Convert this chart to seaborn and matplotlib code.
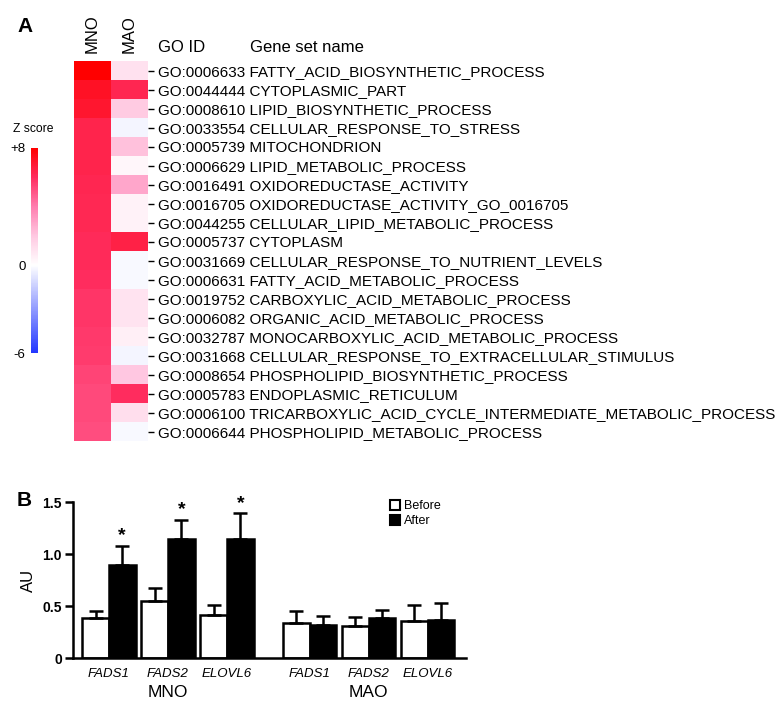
import numpy as np
import pandas as pd
import matplotlib
matplotlib.use("Agg")
import matplotlib.pyplot as plt
import seaborn as sns
from matplotlib.colors import LinearSegmentedColormap
from matplotlib.patches import Patch
from matplotlib import transforms

# ---------------- data ----------------
go_ids = ["GO:0006633", "GO:0044444", "GO:0008610", "GO:0033554", "GO:0005739",
          "GO:0006629", "GO:0016491", "GO:0016705", "GO:0044255", "GO:0005737",
          "GO:0031669", "GO:0006631", "GO:0019752", "GO:0006082", "GO:0032787",
          "GO:0031668", "GO:0008654", "GO:0005783", "GO:0006100", "GO:0006644"]
gene_set_names = ["FATTY_ACID_BIOSYNTHETIC_PROCESS", "CYTOPLASMIC_PART",
                  "LIPID_BIOSYNTHETIC_PROCESS", "CELLULAR_RESPONSE_TO_STRESS",
                  "MITOCHONDRION", "LIPID_METABOLIC_PROCESS", "OXIDOREDUCTASE_ACTIVITY",
                  "OXIDOREDUCTASE_ACTIVITY_GO_0016705", "CELLULAR_LIPID_METABOLIC_PROCESS",
                  "CYTOPLASM", "CELLULAR_RESPONSE_TO_NUTRIENT_LEVELS",
                  "FATTY_ACID_METABOLIC_PROCESS", "CARBOXYLIC_ACID_METABOLIC_PROCESS",
                  "ORGANIC_ACID_METABOLIC_PROCESS", "MONOCARBOXYLIC_ACID_METABOLIC_PROCESS",
                  "CELLULAR_RESPONSE_TO_EXTRACELLULAR_STIMULUS",
                  "PHOSPHOLIPID_BIOSYNTHETIC_PROCESS", "ENDOPLASMIC_RETICULUM",
                  "TRICARBOXYLIC_ACID_CYCLE_INTERMEDIATE_METABOLIC_PROCESS",
                  "PHOSPHOLIPID_METABOLIC_PROCESS"]
z_mno = [8.0, 7.2, 7.0, 6.4, 6.4, 6.4, 6.3, 6.2, 6.2, 6.1,
         6.1, 6.0, 5.8, 5.8, 5.7, 5.6, 5.4, 5.3, 5.3, 5.2]
z_mao = [1.1, 6.3, 1.9, -0.3, 2.2, 0.3, 2.9, 0.5, 0.5, 6.5,
         -0.2, -0.2, 1.0, 1.0, 0.6, -0.3, 2.0, 6.0, 1.2, -0.2]

genes = ["FADS1", "FADS2", "ELOVL6"]
groups = ["MNO", "MAO"]
before_mean = [0.38, 0.55, 0.41, 0.335, 0.31, 0.36]
before_err = [0.07, 0.12, 0.10, 0.115, 0.08, 0.15]
after_mean = [0.89, 1.145, 1.145, 0.32, 0.38, 0.37]
after_err = [0.19, 0.185, 0.245, 0.085, 0.08, 0.16]
significant = [True, True, True, False, False, False]

# ---------------- style ----------------
plt.rcParams['font.family'] = ['Liberation Sans', 'DejaVu Sans']
fig = plt.figure(figsize=(7.84, 7.14), dpi=100)
W, H = 784, 714

def fx(px):
    return px / W

def fy(py):
    return 1 - py / H

# ---------------- panel A: heatmap ----------------
vmin, vmax = -6, 8
def t(z):
    return (z - vmin) / (vmax - vmin)
cmap = LinearSegmentedColormap.from_list("zscore", [
    (t(-6), (35/255, 55/255, 1.0)),
    (t(0), (1.0, 1.0, 1.0)),
    (t(2), (1.0, 200/255, 225/255)),
    (t(4), (1.0, 125/255, 175/255)),
    (t(6), (1.0, 45/255, 95/255)),
    (t(8), (1.0, 0.0, 0.0)),
])

ax_h = fig.add_axes([fx(74), fy(441), fx(74), 380 / H])
cax = fig.add_axes([fx(31), fy(353), fx(7), 205 / H])

row_labels = [f"{g} {n}" for g, n in zip(go_ids, gene_set_names)]
df_h = pd.DataFrame({"MNO": z_mno, "MAO": z_mao}, index=row_labels)
sns.heatmap(df_h, ax=ax_h, cbar_ax=cax, cmap=cmap, vmin=vmin, vmax=vmax,
            linewidths=0, xticklabels=True, yticklabels=True)
ax_h.set_xlabel("")
ax_h.set_ylabel("")
ax_h.yaxis.tick_right()
ax_h.xaxis.tick_top()
ax_h.tick_params(axis='y', right=True, left=False, length=4, width=1, pad=3,
                 labelsize=11, rotation=0, color='black')
ax_h.tick_params(axis='x', top=True, bottom=False, length=0, labelsize=12,
                 rotation=90, pad=6)
for lab in ax_h.get_yticklabels():
    lab.set_ha('left')

cbar = ax_h.collections[0].colorbar
cbar.set_ticks([8, 0, -6])
cbar.set_ticklabels(["+8", "0", "-6"])
cbar.outline.set_visible(False)
cax.yaxis.tick_left()
cax.tick_params(length=0, labelsize=9.5, pad=4)

fig.text(fx(13), fy(129), "Z score", fontsize=8.7, va='center', ha='left')
fig.text(fx(158), fy(47), "GO ID", fontsize=12, va='center', ha='left')
fig.text(fx(250), fy(47), "Gene set name", fontsize=12, va='center', ha='left')
fig.text(fx(17), fy(27), "A", fontsize=15, weight='bold', va='center', ha='left')

# ---------------- panel B: bar chart ----------------
ax_b = fig.add_axes([fx(73), fy(658), fx(393), 156 / H])
group_gap = 0.4
positions = [i + group_gap * (i // len(genes)) for i in range(len(before_mean))]
df_b = pd.DataFrame({
    "pos": positions * 2,
    "Time": ["Before"] * len(before_mean) + ["After"] * len(after_mean),
    "AU": before_mean + after_mean,
})
sns.barplot(data=df_b, x="pos", y="AU", hue="Time", native_scale=True,
            hue_order=["Before", "After"],
            palette={"Before": "white", "After": "black"},
            edgecolor="black", linewidth=1.8, errorbar=None, width=0.9,
            legend=False, ax=ax_b)

for cont, means, errs, is_after in zip(ax_b.containers, [before_mean, after_mean],
                                       [before_err, after_err], [False, True]):
    xs = [p.get_x() + p.get_width() / 2 for p in cont.patches]
    ax_b.errorbar(xs, means, yerr=[np.zeros(len(errs)), errs], fmt='none',
                  ecolor='black', elinewidth=1.8, capsize=5, capthick=1.8, zorder=1)
    if is_after:
        for x, m, e, s in zip(xs, means, errs, significant):
            if s:
                ax_b.text(x, m + e + 0.015, "*", ha='center', va='bottom',
                          fontsize=14, weight='bold')

ax_b.set_xlim(-0.61, 6.05)
ax_b.set_ylim(0, 1.5)
ax_b.set_yticks([0, 0.5, 1.0, 1.5])
ax_b.set_yticklabels(["0", "0.5", "1.0", "1.5"], fontweight='bold')
ax_b.set_xticks(positions)
ax_b.set_xticklabels(genes * len(groups), fontstyle='italic')
ax_b.tick_params(axis='x', length=0, pad=7, labelsize=9.5)
ax_b.tick_params(axis='y', left=True, length=6, width=1.8, direction='out',
                 labelsize=10, pad=2)
sns.despine(ax=ax_b)
for sp in ["left", "bottom"]:
    ax_b.spines[sp].set_linewidth(1.8)
ax_b.set_xlabel("")
ax_b.set_ylabel("AU", fontsize=12)
ax_b.yaxis.set_label_coords(-0.094, 0.5)

trans = transforms.blended_transform_factory(ax_b.transData, ax_b.transAxes)
n = len(genes)
for gi, g in enumerate(groups):
    center = positions[gi * n + n // 2]
    ax_b.text(center, -0.224, g, transform=trans, ha='center', va='center',
              fontsize=12.5)

handles = [Patch(facecolor='white', edgecolor='black', linewidth=1.5, label='Before'),
           Patch(facecolor='black', edgecolor='black', linewidth=1.5, label='After')]
fig.legend(handles=handles, loc='upper left', bbox_to_anchor=(fx(390), fy(500)),
           frameon=False, fontsize=9, handlelength=0.8, handleheight=0.8,
           handletextpad=0.35, labelspacing=0.25, borderpad=0, borderaxespad=0)

fig.text(fx(17), fy(500), "B", fontsize=15, weight='bold', va='center', ha='left')

fig.savefig("out.png", dpi=100)
